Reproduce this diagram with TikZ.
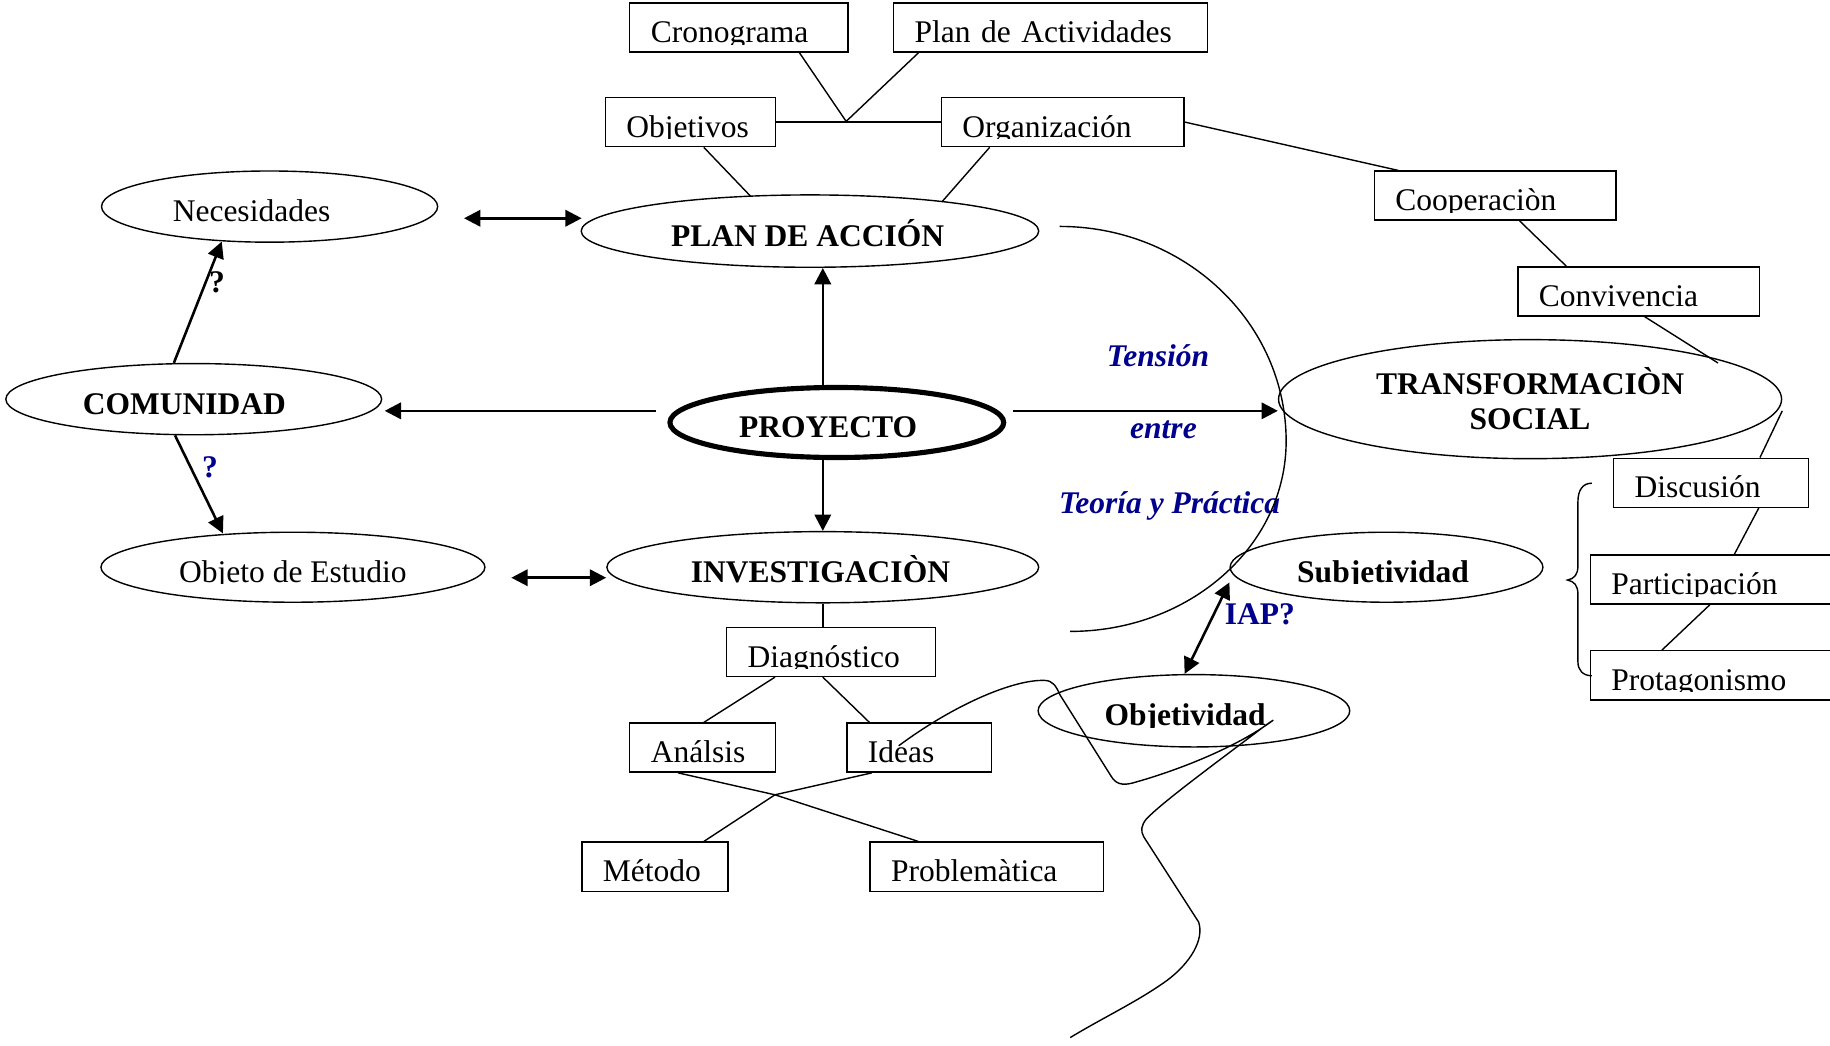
\documentclass[tikz,border=0pt]{standalone}
\usepackage{fontspec}
\setmainfont{Liberation Serif}
\usetikzlibrary{arrows.meta,calc,shapes.geometric}
\definecolor{navy}{RGB}{0,0,140}

% text whose descenders are cut just below the baseline
\newsavebox\cutbox
\newlength\cutw
\newcommand\cut[1]{\sbox\cutbox{#1}\setlength\cutw{\wd\cutbox}%
  \tikz[baseline=0pt]{\path[clip] (0pt,-0.6pt) rectangle (\cutw,13.6pt); \pgftext[base,left]{\usebox\cutbox};}}

\tikzset{
  ell/.style={draw, ellipse, inner sep=0pt, line width=0.6pt},
  tb/.style={draw, rectangle, inner xsep=9pt, inner ysep=0pt, align=left,
             anchor=north west, minimum height=21pt, line width=0.6pt},
  link/.style={line width=0.6pt},
  tip/.tip={Triangle[length=7pt,width=7pt]},
  arr/.style={line width=1.1pt, -tip},
  darr/.style={line width=1.1pt, tip-tip},
  note/.style={text=navy, font=\fontsize{13.5}{16}\selectfont\bfseries\itshape,
               inner sep=0pt, anchor=base west},
  qmark/.style={font=\fontsize{13.5}{16}\selectfont\bfseries, inner sep=0pt, anchor=base},
}

% rectangular box: name, left, top, right, text
\newcommand\tbox[5]{%
  \pgfmathsetlengthmacro\boxw{(#4-#2)*0.5pt}%
  \pgfmathsetlengthmacro\textw{(#4-#2)*0.5pt-18pt}%
  \node[tb, minimum width=\boxw, text width=\textw] (#1) at (#2,#3) {\cut{#5}};}

\begin{document}
\begin{tikzpicture}[x=0.5pt,y=-0.5pt, font=\fontsize{13.5}{16}\selectfont]
\clip (0,0) rectangle (1568,896);

% ---------- ellipses ----------
\node[ell, minimum width=144pt, minimum height=30.5pt] (nec) at (231,177) {\cut{Necesidades}\hspace*{15.5pt}};
\node[ell, minimum width=196pt, minimum height=31pt] (pa) at (694,198) {\bfseries\cut{PLAN DE ACCIÓN}\hspace*{2pt}};
\node[ell, minimum width=161pt, minimum height=30.5pt] (com) at (166,342) {\bfseries\cut{COMUNIDAD}\hspace*{8pt}};
\node[ell, line width=2.2pt, minimum width=143pt, minimum height=30pt] (pro) at (717,362) {\bfseries\cut{PROYECTO}\hspace*{7.5pt}};
\node[ell, minimum width=215.5pt, minimum height=51pt, align=center] (ts) at (1311,342)
  {\bfseries TRANSFORMACIÒN\\[-1pt]\bfseries\cut{SOCIAL}};
\node[ell, minimum width=164.5pt, minimum height=30pt] (obe) at (251,486) {\cut{Objeto de Estudio}};
\node[ell, minimum width=185pt, minimum height=30.5pt] (inv) at (705,486) {\bfseries\cut{INVESTIGACIÒN}\hspace*{2pt}};
\node[ell, minimum width=134pt, minimum height=30pt] (sub) at (1188,486) {\bfseries\cut{Subjetividad}\hspace*{3pt}};
\node[ell, minimum width=133.5pt, minimum height=31pt] (objv) at (1023,609) {\bfseries\cut{Objetividad}\hspace*{7.5pt}};

% ---------- boxes ----------
\tbox{crono}{539}{2}{726}{Cronograma}
\tbox{plan}{765}{2}{1034}{Plan de Actividades}
\tbox{obj}{518}{83}{664}{Objetivos}
\tbox{org}{806}{83}{1014}{Organización}
\tbox{coop}{1177}{146}{1384}{Cooperaciòn}
\tbox{conv}{1300}{228}{1507}{Convivencia}
\tbox{disc}{1382}{392}{1549}{Discusión}
\tbox{part}{1362}{475}{1600}{Participación}
\tbox{prot}{1362}{557}{1600}{Protagonismo}
\tbox{diag}{622}{537}{801}{Diagnóstico}
\tbox{anal}{539}{619}{664}{Análsis}
\tbox{ideas}{725}{619}{849}{Ideas}
\tbox{met}{498}{721}{623}{Método}
\tbox{prob}{745}{721}{945}{Problemàtica}

\coordinate (j1) at (725,104);
\coordinate (j2) at (664,681);

% ---------- plain links ----------
\draw[link] (obj.east) -- (org.west);
\draw[link] ($(crono.south west)+(146,0)$) -- (j1) -- ($(plan.south west)+(22,0)$);
\draw[link] ($(obj.south west)+(85,0)$) -- ($(pa.center)+(-51,-30)$);
\draw[link] ($(org.south west)+(42,0)$) -- ($(pa.center)+(113,-25)$);
\draw[link] (org.east) -- ($(coop.north west)+(21,0)$);
\draw[link] ($(coop.south west)+(125,0)$) -- ($(conv.north west)+(42,0)$);
\draw[link] ($(conv.south west)+(109,0)$) -- ($(ts.center)+(161,-31)$);
\draw[link] ($(ts.east)+(0,10)$) -- ($(disc.north west)+(126,0)$);
\draw[link] ($(disc.south west)+(125,0)$) -- ($(part.north west)+(124,0)$);
\draw[link] ($(part.south west)+(103,0)$) -- ($(prot.north west)+(62,0)$);
\draw[link] (inv.south) -- ($(diag.north west)+(83,0)$);
\draw[link] ($(diag.south west)+(42,0)$) -- ($(anal.north west)+(64,0)$);
\draw[link] ($(diag.south west)+(83,0)$) -- ($(ideas.north west)+(20,0)$);
\draw[link] ($(anal.south west)+(42,0)$) -- (j2) -- ($(prob.north west)+(42,0)$);
\draw[link] ($(ideas.south west)+(22,0)$) -- (j2) -- ($(met.north west)+(105,0)$);

% ---------- arrows ----------
\draw[darr] ($(nec.east)+(22,10)$) -- ($(pa.west)+(1,-11)$);
\draw[arr] ($(pro.north)+(-12,0)$) -- ($(pa.south)+(11,0)$);
\draw[arr] ($(pro.west)+(-10,-10)$) -- ($(com.east)+(2,10)$);
\draw[arr] ($(pro.east)+(6,-10)$) -- ($(ts.west)+(0,10)$);
\draw[arr] ($(pro.south)+(-12,0)$) -- (inv.north);
\draw[darr] ($(obe.east)+(22,9)$) -- ($(inv.west)+(0,9)$);
\draw[arr] ($(com.north)+(-17,0)$) -- ($(nec.center)+(-41,30)$);
\draw[arr] ($(com.south)+(-16,0)$) -- ($(obe.center)+(-60,-29)$);
\draw[darr] ($(sub.west)+(0,13)$) -- ($(objv.north)+(-8,0)$);

% ---------- labels ----------
\node[qmark] (q1) at (186,251) {?};
\node[qmark, text=navy] (q2) at (180,409) {?};
\node[note] (ten) at (948,314) {Tensión};
\node[note] (ent) at (968,376) {entre};
\node[note] (typ) at (907,440) {Teoría y Práctica};
\node[note, font=\fontsize{13.5}{16}\selectfont\bfseries] (iap) at (1049,535) {IAP?};

% ---------- tension arc ----------
\draw[link] (908,194) .. controls (1015,194) and (1102,276) .. (1102,378)
  .. controls (1102,468) and (1019,541) .. (917,541);

% ---------- brace ----------
\draw[link] (1364,414) .. controls (1356,414) and (1352,420) .. (1352,430) -- (1352,485)
  .. controls (1352,492) and (1349,496) .. (1343,497)
  .. controls (1349,498) and (1352,502) .. (1352,509) -- (1352,567)
  .. controls (1352,574) and (1356,579) .. (1364,579);

% ---------- wavy line ----------
\draw[link] (770,639) .. controls (820,602) and (870,582) .. (895,583)
  .. controls (902,583) and (905,588) .. (908,595)
  -- (952,665)
  .. controls (956,672) and (962,673) .. (970,671)
  .. controls (1010,660) and (1060,640) .. (1091,617)
  -- (1085,621)
  .. controls (1040,655) and (995,688) .. (982,702)
  .. controls (978,707) and (977,712) .. (980,717)
  -- (1027,790)
  .. controls (1032,805) and (1020,825) .. (1000,840)
  .. controls (975,858) and (945,872) .. (917,889);
\end{tikzpicture}
\end{document}
